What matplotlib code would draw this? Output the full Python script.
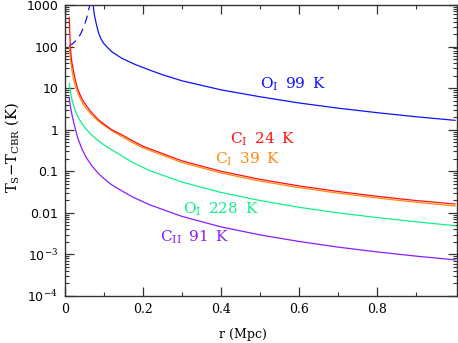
import matplotlib
matplotlib.use("Agg")
import matplotlib.pyplot as plt
from matplotlib.ticker import FixedLocator, NullFormatter, LogLocator

# ---- data ----
r_oi99 = [0.072, 0.075, 0.078, 0.082, 0.0864, 0.092, 0.099, 0.11, 0.12, 0.146, 0.18,
          0.218, 0.25, 0.3, 0.4, 0.5, 0.6, 0.7, 0.8, 0.9, 1.0]
t_oi99 = [1000, 600, 436, 300, 209, 155, 120, 93, 75, 52, 37,
          27, 21, 15, 9.1, 6.2, 4.4, 3.3, 2.57, 2.05, 1.68]

r_oi99_neg = [0.011, 0.02, 0.03, 0.04, 0.05, 0.056, 0.061, 0.064]
t_oi99_neg = [105, 118, 145, 200, 330, 500, 800, 1000]

r_ci24 = [0.011, 0.0125, 0.0137, 0.016, 0.018, 0.022, 0.0265, 0.032, 0.039, 0.047,
          0.0564, 0.065, 0.078, 0.09, 0.103, 0.12, 0.146, 0.175, 0.2, 0.3, 0.4,
          0.5, 0.6, 0.7, 0.8, 0.9, 1.0]
t_ci24 = [500, 200, 100, 55, 40, 25, 15.7, 10, 6.8, 4.8,
          3.6, 2.8, 2.06, 1.6, 1.30, 1.0, 0.75, 0.53, 0.40, 0.178, 0.100,
          0.064, 0.0445, 0.0327, 0.025, 0.0198, 0.0163]

r_ci39 = [0.011, 0.0125, 0.0154, 0.018, 0.0222, 0.027, 0.0333, 0.04, 0.048, 0.057,
          0.069, 0.08, 0.095, 0.12, 0.146, 0.175, 0.2, 0.3, 0.4, 0.5, 0.6, 0.7,
          0.8, 0.9, 1.0]
t_ci39 = [100, 65, 40, 26, 15.7, 11, 7.5, 5.4, 3.9, 3.0,
          2.26, 1.8, 1.37, 0.95, 0.68, 0.48, 0.365, 0.162, 0.091, 0.058, 0.0405, 0.0298,
          0.0228, 0.018, 0.0146]

r_oi228 = [0.011, 0.014, 0.018, 0.022, 0.0282, 0.035, 0.0436, 0.052, 0.065, 0.078,
           0.0906, 0.105, 0.119, 0.144, 0.175, 0.218, 0.3, 0.4, 0.5, 0.6, 0.7,
           0.8, 0.9, 1.0]
t_oi228 = [13, 8, 5.2, 3.8, 2.6, 1.9, 1.4, 1.1, 0.80, 0.62,
           0.50, 0.40, 0.33, 0.24, 0.16, 0.103, 0.055, 0.031, 0.0198, 0.0136, 0.0100,
           0.0077, 0.0061, 0.0049]

r_cii91 = [0.011, 0.013, 0.016, 0.0213, 0.027, 0.033, 0.0436, 0.055, 0.069, 0.085,
           0.103, 0.12, 0.144, 0.175, 0.218, 0.3, 0.4, 0.5, 0.6, 0.7, 0.8, 0.9, 1.0]
t_cii91 = [6.0, 4.0, 2.8, 1.65, 1.0, 0.62, 0.34, 0.21, 0.135, 0.09,
           0.063, 0.047, 0.0345, 0.0237, 0.0155, 0.0082, 0.0046, 0.00295, 0.00205,
           0.0015, 0.00115, 0.00091, 0.00074]

x_ticks = [0, 0.2, 0.4, 0.6, 0.8]
x_ticklabels = ["0", "0.2", "0.4", "0.6", "0.8"]
y_ticks = [1e-4, 1e-3, 1e-2, 1e-1, 1, 10, 100, 1000]
y_ticklabels = [r"10$^{-4}$", r"10$^{-3}$", "0.01", "0.1", "1", "10", "100", "1000"]

labels = ["O$_{\\rm I}$\u2009 99\u2009 K", "C$_{\\rm I}$\u2009 24\u2009 K",
          "C$_{\\rm I}$\u2009 39\u2009 K", "O$_{\\rm I}$\u2009 228\u2009 K",
          "C$_{\\rm II}$\u2009 91\u2009 K"]

c_blue, c_red, c_orange, c_green, c_purple = "#1010ff", "#ff1010", "#ff8a10", "#10f08a", "#8c1cff"

plt.rcParams['mathtext.fontset'] = 'dejavuserif'
plt.rcParams['lines.scale_dashes'] = False

fig = plt.figure(figsize=(4.58, 3.43), dpi=100)
ax = fig.add_axes([65/458, 1 - 296/343, (457 - 65)/458, (296 - 5)/343])

lw = 0.9
ax.plot(r_oi99, t_oi99, color=c_blue, lw=lw)
ax.plot(r_oi99_neg, t_oi99_neg, color=c_blue, lw=lw, linestyle=(0, (6, 4)))
ax.plot(r_ci39, t_ci39, color=c_orange, lw=lw)
ax.plot(r_ci24, t_ci24, color=c_red, lw=lw)
ax.plot(r_oi228, t_oi228, color=c_green, lw=lw)
ax.plot(r_cii91, t_cii91, color=c_purple, lw=lw)

ax.set_yscale('log')
ax.set_xlim(0, 1.005)
ax.set_ylim(1e-4, 1e3)

ax.xaxis.set_major_locator(FixedLocator(x_ticks))
ax.set_xticklabels(x_ticklabels, family='DejaVu Serif', fontsize=9)
ax.xaxis.set_minor_locator(FixedLocator([0.1, 0.3, 0.5, 0.7, 0.9]))
ax.yaxis.set_major_locator(FixedLocator(y_ticks))
ax.set_yticklabels(y_ticklabels, family='DejaVu Sans', fontsize=9)
ax.yaxis.set_minor_locator(LogLocator(base=10, subs=range(2, 10), numticks=20))
ax.yaxis.set_minor_formatter(NullFormatter())

ax.tick_params(which='both', direction='in', top=True, right=True, color='#333333')
ax.tick_params(which='major', length=6.5, width=0.9, pad=5)
ax.tick_params(which='minor', length=3.2, width=0.8)
for s in ax.spines.values():
    s.set_linewidth(1.0)
    s.set_color('#333333')

fig.text(243/458, 1 - 338/343, "r (Mpc)", ha='center', va='baseline',
         family='DejaVu Serif', fontsize=9)
fig.text(12/458, 1 - 148/343, r"T$_{\rm S}$$-$T$_{\rm CBR}$ (K)", rotation=90,
         ha='center', va='center', family='DejaVu Serif', fontsize=10.5)

text_pos = [(0.50, 9.5), (0.423, 0.466), (0.385, 0.154), (0.303, 0.00964), (0.2436, 0.0020)]
text_col = [c_blue, c_red, c_orange, c_green, c_purple]
for (tx, ty), lab, col in zip(text_pos, labels, text_col):
    ax.text(tx, ty, lab, color=col, fontsize=11, family='DejaVu Serif',
            ha='left', va='baseline')

fig.savefig("out.png", dpi=100)
